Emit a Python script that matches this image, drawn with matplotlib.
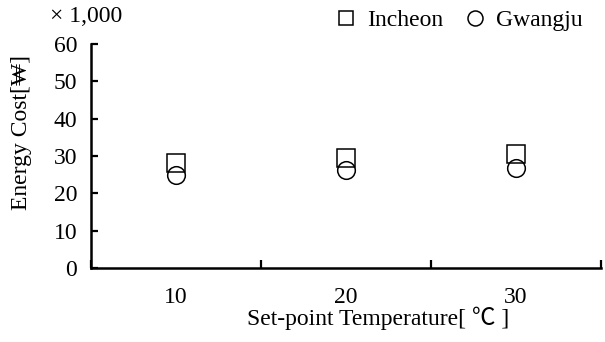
import matplotlib
matplotlib.use("Agg")
import matplotlib.pyplot as plt

# data
temps = ["10", "20", "30"]
incheon = [28.0, 29.5, 30.5]
gwangju = [25.0, 26.3, 26.8]

plt.rcParams["font.family"] = ["Liberation Serif", "Noto Sans CJK JP", "DejaVu Serif"]
plt.rcParams["font.size"] = 17

fig = plt.figure(figsize=(6.05, 3.42), dpi=100)
ax = fig.add_axes([91 / 605, 74 / 342, 510 / 605, 224 / 342])

x = list(range(len(temps)))
ax.plot(x, incheon, ls="none", marker="s", ms=12.7, mfc="none", mec="black",
        mew=1.1, label="Incheon")
ax.plot(x, gwangju, ls="none", marker="o", ms=12.7, mfc="none", mec="black",
        mew=1.1, label="Gwangju")

ax.set_xlim(-0.5, len(temps) - 0.5)
ax.set_ylim(0, 60)
ax.set_yticks(range(0, 61, 10))

# category labels sit between the tick marks
ax.set_xticks([i - 0.5 for i in range(len(temps) + 1)])
ax.set_xticklabels([])
ax.set_xticks(x, minor=True)
ax.set_xticklabels(temps, minor=True)
ax.tick_params(axis="x", which="minor", length=0, pad=14)
ax.tick_params(axis="x", which="major", direction="in", length=5.5, width=1.6)
ax.tick_params(axis="y", direction="in", length=5, width=1.6, pad=10)

for side in ["top", "right"]:
    ax.spines[side].set_visible(False)
for side in ["left", "bottom"]:
    ax.spines[side].set_linewidth(1.8)

ax.set_xlabel("Set-point Temperature[ ℃ ]", va="top")
ax.xaxis.set_label_coords((378 - 91) / 510, -0.174)
ax.set_ylabel("Energy Cost[₩]", va="center")
ax.yaxis.set_label_coords((22 - 91) / 510, 0.607)

fig.text(50 / 605, 1 - 17 / 342, "× 1,000", ha="left", va="center")

ax.legend(loc="center right", bbox_to_anchor=(583 / 605, 1 - 20 / 342),
          bbox_transform=fig.transFigure, ncol=2, frameon=False,
          handletextpad=0.4, columnspacing=0.85, markerscale=0.85,
          handlelength=1.0, borderaxespad=0, borderpad=0)

fig.savefig("out.png", dpi=100)
